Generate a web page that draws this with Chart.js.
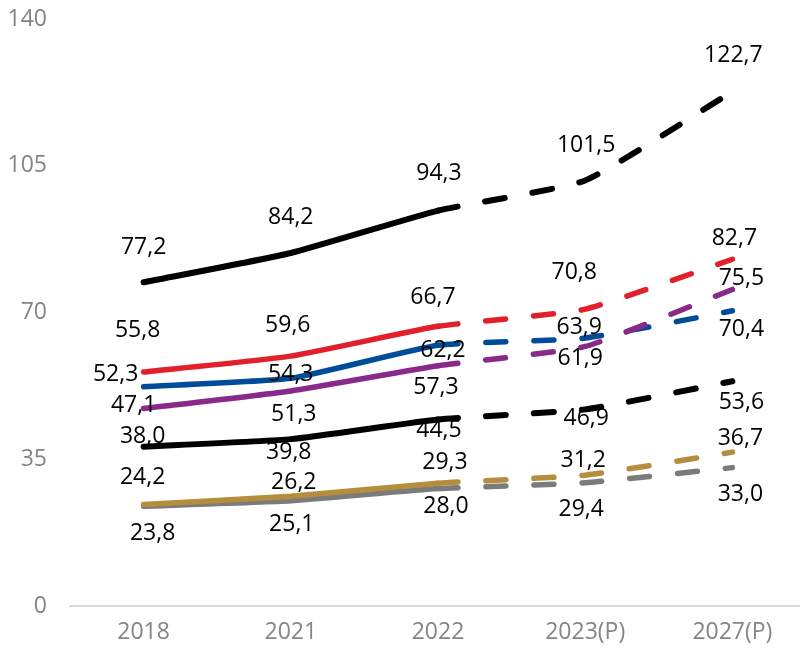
<!DOCTYPE html>
<html>
<head>
<meta charset="utf-8">
<script src="https://cdn.jsdelivr.net/npm/chart.js@4"></script>
<style>
  html, body { margin: 0; padding: 0; background: #fff; overflow: hidden; }
  #wrap { width: 806px; height: 650px; }
</style>
</head>
<body>
<div id="wrap"><canvas id="chart" width="806" height="650"></canvas></div>
<script>
const years = ['2018', '2021', '2022', '2023(P)', '2027(P)'];

const blackTop = [77.2, 84.2, 94.3, 101.5, 122.7];
const red = [55.8, 59.6, 66.7, 70.8, 82.7];
const blue = [52.3, 54.3, 62.2, 63.9, 70.4];
const purple = [47.1, 51.3, 57.3, 61.9, 75.5];
const blackLow = [38.0, 39.8, 44.5, 46.9, 53.6];
const gold = [24.2, 26.2, 29.3, 31.2, 36.7];
const gray = [23.8, 25.1, 28.0, 29.4, 33.0];

const yTicks = [0, 35, 70, 105, 140];

// label nudges in px relative to each point, [dx, dy]
const labelShift = {
    blackTop: [[0, -35], [0, -36], [1, -37], [1, -35], [1, -36]],
    red: [[-6, -42], [-3, -31], [-5, -29], [-11, -37], [2, -21]],
    blue: [[-28, -12], [0, -4], [5, 5], [-6, -11], [9, 19]],
    purple: [[-10, -3], [3, 24], [-2, 22], [-5, 12], [9, -11]],
    blackLow: [[-1, -10], [-2, 13], [1, 11], [1, 9], [9, 21]],
    gold: [[-1, -27], [3, -14], [7, -21], [-2, -15], [8, -14]],
    gray: [[9, 27], [1, 24], [8, 18], [-4, 27], [8, 27]]
};

const fmt = v => v.toFixed(1).replace('.', ',');

const makeSeries = (key, data, color, width) => ({
    label: key,
    data,
    borderColor: color,
    backgroundColor: color,
    borderWidth: width,
    borderCapStyle: 'round',
    borderJoinStyle: 'round',
    pointRadius: 0,
    tension: 0.15,
    segment: {
        borderDash: ctx => ctx.p0DataIndex >= 2 ? [20, 28] : undefined
    }
});

const valueLabels = {
    id: 'valueLabels',
    afterDatasetsDraw(chart) {
        const { ctx } = chart;
        ctx.save();
        ctx.font = '23px "Open Sans", sans-serif';
        ctx.fillStyle = '#000';
        ctx.textAlign = 'center';
        ctx.textBaseline = 'middle';
        chart.data.datasets.forEach((ds, i) => {
            const meta = chart.getDatasetMeta(i);
            const shifts = labelShift[ds.label];
            meta.data.forEach((pt, j) => {
                const [dx, dy] = shifts[j];
                ctx.fillText(fmt(ds.data[j]), pt.x + dx, pt.y + dy);
            });
        });
        ctx.restore();
    }
};

new Chart(document.getElementById('chart'), {
    type: 'line',
    data: {
        labels: years,
        datasets: [
            makeSeries('blackTop', blackTop, '#000000', 6),
            makeSeries('red', red, '#e2202b', 5.5),
            makeSeries('purple', purple, '#892a8a', 5.5),
            makeSeries('blue', blue, '#004c98', 5.5),
            makeSeries('blackLow', blackLow, '#000000', 6),
            makeSeries('gold', gold, '#b58d3e', 5.5),
            makeSeries('gray', gray, '#7b7b7b', 5.5)
        ]
    },
    options: {
        responsive: false,
        animation: false,
        layout: { padding: { top: 19, right: 0, left: 0, bottom: 0 } },
        plugins: {
            legend: { display: false },
            tooltip: { enabled: false }
        },
        scales: {
            x: {
                offset: true,
                grid: { display: false, drawTicks: false },
                border: { display: true, color: '#d9d9d9', width: 2 },
                ticks: {
                    color: '#858585',
                    font: { family: '"Open Sans", sans-serif', size: 23 },
                    padding: 13,
                    maxRotation: 0
                },
                afterFit: s => {
                    s.height = 44;
                    s.paddingLeft = 0;
                    s.paddingRight = 0;
                }
            },
            y: {
                min: 0,
                max: 140,
                afterBuildTicks: s => { s.ticks = yTicks.map(v => ({ value: v })); },
                grid: { display: false, drawTicks: false },
                border: { display: false },
                ticks: {
                    color: '#858585',
                    font: { family: '"Open Sans", sans-serif', size: 23 },
                    padding: 23
                },
                afterFit: s => {
                    s.width = 70;
                    s.paddingTop = 0;
                    s.paddingBottom = 0;
                }
            }
        }
    },
    plugins: [valueLabels]
});
</script>
</body>
</html>
